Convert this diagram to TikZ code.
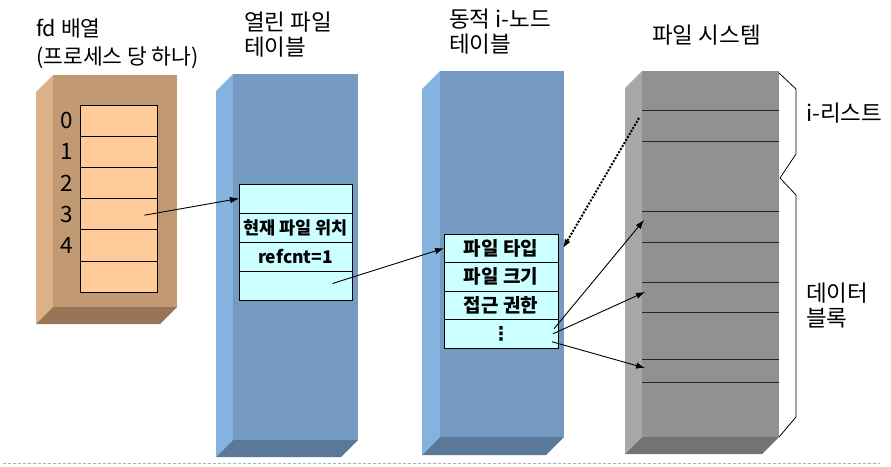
\documentclass[tikz,border=0pt]{standalone}
\usepackage{fontspec}
\setmainfont{Noto Sans CJK KR}
\newfontfamily\symfont{DejaVu Sans}
\usetikzlibrary{arrows.meta, positioning, calc}
\definecolor{fdfront}{RGB}{193, 154, 115}
\definecolor{fdside}{RGB}{221, 177, 135}
\definecolor{fdbot}{RGB}{150, 118, 87}
\definecolor{fdcell}{RGB}{255, 204, 153}
\definecolor{tabfront}{RGB}{117, 155, 195}
\definecolor{tabside}{RGB}{133, 179, 224}
\definecolor{tabbot}{RGB}{90, 120, 152}
\definecolor{tabcell}{RGB}{204, 255, 255}
\definecolor{fsfront}{RGB}{145, 145, 145}
\definecolor{fsside}{RGB}{168, 168, 168}
\definecolor{fsbot}{RGB}{115, 115, 115}
\definecolor{rule}{RGB}{160, 180, 205}
% slab: left, top, right, bottom of the front face, depth, colour prefix
\newcommand{\slab}[6]{%
  \fill[#6side] (#1-#5,#2+#5) -- (#1,#2) -- (#1,#4) -- (#1-#5,#4+#5) -- cycle;
  \fill[#6bot] (#1-#5,#4+#5) -- (#1,#4) -- (#3,#4) -- (#3-#5,#4+#5) -- cycle;
  \fill[#6front] (#1,#2) rectangle (#3,#4);}

\begin{document}
\begin{tikzpicture}[x=1pt, y=-1pt,
    fdbox/.style={draw=black, line width=0.9pt, fill=fdcell, minimum width=77pt, minimum height=31.2pt, inner sep=0pt, outer sep=0pt},
    tabbox/.style={draw=black, line width=0.9pt, fill=tabcell, minimum width=113pt, minimum height=29pt, inner sep=0pt, outer sep=0pt, font=\fontsize{17.5}{20}\selectfont\bfseries},
    ttl/.style={anchor=west, align=left, inner sep=0pt, font=\fontsize{22.5}{25}\selectfont},
    link/.style={-{Latex[length=9pt, width=6.5pt]}, line width=0.9pt}]
    \useasboundingbox (0,0) rectangle (891,466);
    \slab{53}{75}{177}{307}{17}{fd}
    \slab{233}{74}{358}{440}{17}{tab}
    \slab{440}{71}{564}{437}{18}{tab}
    \slab{642}{71}{779}{437}{17}{fs}
    \draw[rule, line width=0.8pt, dash pattern=on 3pt off 2pt] (3,463) -- (880,463);
    % fd array
    \foreach \i in {0,...,5} \node[fdbox] (fd\i) at (118.5,120.6+31.2*\i) {};
    \foreach \i in {0,...,4} \node[font=\fontsize{22.5}{24}\selectfont, inner sep=0pt, left=7pt of fd\i] (num\i) {\i};
    % open file table
    \foreach \i/\t in {1/,2/현재 파일 위치,3/refcnt=1,4/} \node[tabbox] (oft\i) at (295.5,169.5+29*\i) {\t};
    % inode table
    \foreach \i/\t in {1/파일 타입,2/파일 크기,3/접근 권한,4/{\symfont\fontsize{19}{20}\selectfont ⋮}}
      \node[tabbox, minimum width=114pt, minimum height=28.5pt, font=\fontsize{19}{20}\selectfont\bfseries] (ino\i) at (501,219.75+28.5*\i) {\t};
    % file system blocks
    \foreach \y in {110,141,211,242,282,312,359,382} \draw[black!85, line width=0.9pt] (642,\y) -- (779,\y);
    \coordinate (fsb1) at (639,118);
    \coordinate (fsb2) at (644,220);
    \coordinate (fsb3) at (645,292);
    \coordinate (fsb4) at (645,368);
    \draw[line width=0.8pt] (779,73) -- (796,89) -- (796,154) -- (780,178) -- (796,195) -- (796,417) -- (779,437);
    % titles
    \node[ttl, font=\fontsize{21.5}{28}\selectfont] (fdttl) at (36,44) {fd 배열\\(프로세스 당 하나)};
    \node[ttl] (oftttl) at (244,35) {열린 파일\\테이블};
    \node[ttl] (inottl) at (449,32) {동적 i-노드\\테이블};
    \node[ttl] (fsttl) at (652,35) {파일 시스템};
    \node[ttl] (ilist) at (806,113) {i-리스트};
    \node[ttl] (datablk) at (806,305) {데이터\\블록};
    % links
    \draw[link] ($(fd3.center)+(26,1)$) -- (oft1.west);
    \draw[link] ($(oft4.center)+(37,-2)$) -- (ino1.west);
    \draw[link, line width=2pt, dash pattern=on 2pt off 1.5pt] (fsb1) -- ($(ino1.east)+(5,0)$);
    \draw[link] ($(ino4.center)+(53,-5)$) -- (fsb2);
    \draw[link] ($(ino4.center)+(52,0)$) -- (fsb3);
    \draw[link] ($(ino4.center)+(51,8)$) -- (fsb4);
\end{tikzpicture}
\end{document}
